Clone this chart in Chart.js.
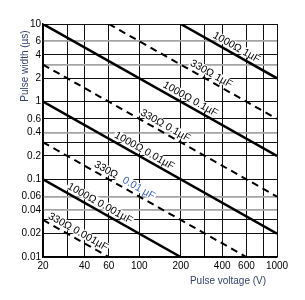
<!DOCTYPE html>
<html>
<head>
<meta charset="UTF-8">
<title>Pulse width vs pulse voltage</title>
<script src="https://cdn.jsdelivr.net/npm/chart.js@4.4.0/dist/chart.umd.min.js"></script>
<style>
  body { margin: 0; background: #fff; }
  #wrap { width: 305px; height: 300px; }
</style>
</head>
<body>
<div id="wrap"><canvas id="chartPulse" width="305" height="300"></canvas></div>
<script>
    // Curves: resistance / capacitance, and their two end points (V, µs)
    var resistance = [1000, 330, 1000, 330, 1000, 330, 1000, 330];
    var capacitance = ['1', '1', '0.1', '0.1', '0.01', '0.01', '0.001', '0.001'];
    var startVoltage = [200, 60, 20, 20, 20, 20, 20, 20];
    var startWidth = [10, 10, 10, 3, 1, 0.3, 0.1, 0.03];
    var endVoltage = [1000, 1000, 1000, 1000, 1000, 600, 200, 60];
    var endWidth = [2, 0.6, 0.2, 0.06, 0.02, 0.01, 0.01, 0.01];

    // Axis ticks
    var xGridValues = [20, 30, 40, 60, 100, 200, 300, 400, 600, 800, 1000];
    var xTickLabels = [20, 40, 60, 100, 200, 400, 600, 1000];
    var yGridValues = [10, 6, 4, 3, 2, 1, 0.6, 0.4, 0.3, 0.2, 0.1, 0.06, 0.04, 0.03, 0.02, 0.01];
    var yTickLabels = [10, 6, 4, 2, 1, 0.6, 0.4, 0.2, 0.1, 0.06, 0.04, 0.02, 0.01];
    var yGrayLines = [6, 3, 0.4, 0.06, 0.04];

    // where along each curve its label sits (voltage)
    var labelAt = [480, 315, 222, 146, 103, 74, 49, 34];

    var tickFont = { family: '"Liberation Sans Narrow", "Liberation Sans", Arial, sans-serif', size: 10 };
    var titleColor = '#33416b';

    var datasets = resistance.map(function (r, i) {
        return {
            label: r + 'Ω ' + capacitance[i] + 'µF',
            data: [
                { x: startVoltage[i], y: startWidth[i] },
                { x: endVoltage[i], y: endWidth[i] }
            ],
            borderColor: '#000',
            borderWidth: r === 1000 ? 2.5 : 2,
            borderDash: r === 1000 ? [] : [7, 5],
            pointRadius: 0,
            fill: false,
            tension: 0
        };
    });

    // labels along the curves + axis titles
    var curveLabels = {
        id: 'curveLabels',
        afterDatasetsDraw: function (chart) {
            var ctx = chart.ctx;
            var xs = chart.scales.x, ys = chart.scales.y;
            ctx.save();
            ctx.font = '10.5px "Liberation Sans", Arial, sans-serif';
            ctx.textBaseline = 'alphabetic';
            resistance.forEach(function (r, i) {
                var x1 = xs.getPixelForValue(startVoltage[i]), y1 = ys.getPixelForValue(startWidth[i]);
                var x2 = xs.getPixelForValue(endVoltage[i]), y2 = ys.getPixelForValue(endWidth[i]);
                var ang = Math.atan2(y2 - y1, x2 - x1);
                var k = startVoltage[i] * startWidth[i];
                var px = xs.getPixelForValue(labelAt[i]);
                var py = ys.getPixelForValue(k / labelAt[i]);
                var partA = r + 'Ω ';
                var partB = (i === 5) ? capacitance[i] + ' µF' : capacitance[i] + 'µF';
                var wA = ctx.measureText(partA).width;
                var wB = ctx.measureText(partB).width;
                var gap = (i === 5) ? 4 : 0;
                var total = wA + gap + wB;
                ctx.save();
                ctx.translate(px, py);
                ctx.rotate(ang);
                ctx.fillStyle = '#fff';
                ctx.fillRect(-total / 2 - 1, -12, total + 2, 9);
                ctx.textAlign = 'left';
                ctx.fillStyle = '#000';
                ctx.fillText(partA, -total / 2, -4);
                ctx.fillStyle = (i === 5) ? '#3c63c4' : '#000';
                ctx.fillText(partB, -total / 2 + wA + gap, -4);
                ctx.restore();
            });

            // axis titles
            ctx.fillStyle = titleColor;
            ctx.font = '10px "Liberation Sans", Arial, sans-serif';
            ctx.textAlign = 'center';
            ctx.textBaseline = 'middle';
            ctx.fillText('Pulse voltage (V)', 228, 281);
            ctx.save();
            ctx.translate(25, 66);
            ctx.rotate(-Math.PI / 2);
            ctx.fillText('Pulse width (µs)', 0, 0);
            ctx.restore();
            ctx.restore();
        }
    };

    var chartPulse = new Chart(document.getElementById('chartPulse').getContext('2d'), {
        type: 'line',
        data: { datasets: datasets },
        plugins: [curveLabels],
        options: {
            responsive: false,
            animation: false,
            layout: { padding: { left: 0, top: 24, right: 28, bottom: 0 } },
            plugins: {
                legend: { display: false },
                tooltip: { enabled: false }
            },
            scales: {
                x: {
                    type: 'logarithmic',
                    min: 20,
                    max: 1000,
                    afterBuildTicks: function (scale) {
                        scale.ticks = xGridValues.map(function (v) { return { value: v }; });
                    },
                    afterFit: function (scale) { scale.height = 43; },
                    ticks: {
                        autoSkip: false,
                        maxRotation: 0,
                        padding: 3,
                        color: '#000',
                        font: tickFont,
                        callback: function (v) { return xTickLabels.indexOf(v) >= 0 ? String(v) : ''; }
                    },
                    grid: { color: '#111', lineWidth: 1, drawTicks: false },
                    border: { color: '#000', width: 1.5 }
                },
                y: {
                    type: 'logarithmic',
                    min: 0.01,
                    max: 10,
                    afterBuildTicks: function (scale) {
                        scale.ticks = yGridValues.map(function (v) { return { value: v }; });
                    },
                    afterFit: function (scale) { scale.width = 43; },
                    ticks: {
                        autoSkip: false,
                        padding: 2,
                        color: '#000',
                        font: tickFont,
                        callback: function (v) { return yTickLabels.indexOf(v) >= 0 ? String(v) : ''; }
                    },
                    grid: {
                        drawTicks: false,
                        color: function (c) {
                            return c.tick && yGrayLines.indexOf(c.tick.value) >= 0 ? '#a5a5a5' : '#111';
                        },
                        lineWidth: function (c) {
                            return c.tick && yGrayLines.indexOf(c.tick.value) >= 0 ? 1.8 : 1;
                        }
                    },
                    border: { color: '#000', width: 1.5 }
                }
            }
        }
    });
</script>
</body>
</html>
